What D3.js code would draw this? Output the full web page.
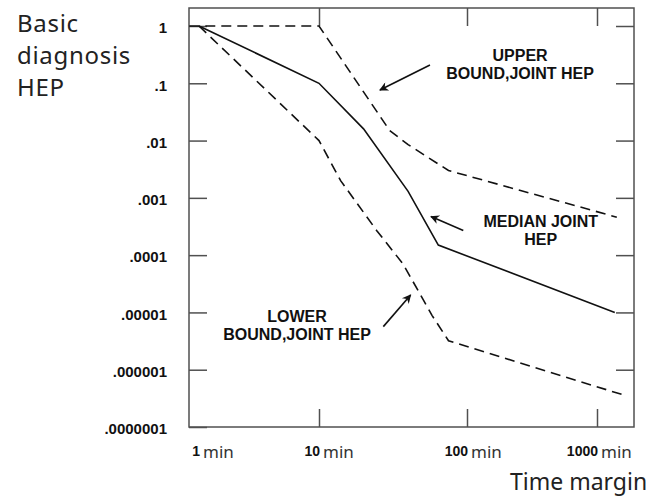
<!DOCTYPE html>
<html>
<head>
<meta charset="utf-8">
<script src="https://cdn.jsdelivr.net/npm/d3@7"></script>
<style>
  body { margin: 0; background: #fff; }
  svg { display: block; }
</style>
</head>
<body>
<svg></svg>
<script>
// tick values and labels
const xTickValues = [10, 100, 1000]
const xLabelValues = [1, 10, 100, 1000]
const yTickValues = [1, 1e-1, 1e-2, 1e-3, 1e-4, 1e-5, 1e-6, 1e-7]
const yTickLabels = ['1', '.1', '.01', '.001', '.0001', '.00001', '.000001', '.0000001']

// curves (time in min, HEP)
const medianX = [1, 10, 20, 40, 64, 1370]
const medianY = [1, 0.1, 0.016, 0.0013, 0.00015, 0.00001]

const upperX = [0.83, 10, 30, 40, 75, 1420]
const upperY = [1, 1, 0.015, 0.0085, 0.003, 0.00046]

const lowerX = [1, 10, 14, 24.5, 37, 58, 75, 1680]
const lowerY = [1, 0.01, 0.002, 0.00027, 0.00007, 0.0000089, 0.0000032, 0.00000035]

// annotation labels and arrows (data coords)
const labelNames = [['UPPER', 'BOUND,JOINT HEP'], ['MEDIAN JOINT', 'HEP'], ['LOWER', 'BOUND,JOINT HEP']]
const labelX = [256, 369, 6.56]
const labelY = [0.248, 3.14e-4, 6.9e-6]
const arrowFrom = [[56.2, 0.209], [94.4, 2.7e-4], [27.2, 5.65e-6]]
const arrowTo = [[25.8, 0.0764], [57.1, 4.73e-4], [41.6, 2.02e-5]]

const svgWidth = 652
const svgHeight = 497
const margin = { left: 189, top: 8 }
const width = 445
const height = 419
const tickLen = 18

const svg = d3.select('svg')
    .attr('width', svgWidth)
    .attr('height', svgHeight)

// the decades on the original are not evenly spaced, so the log scale is piecewise
const x = d3.scaleLog()
    .domain([1, 10, 100, 1000])
    .range([10, 130, 278, 408])

const y = d3.scaleLog()
    .domain([1, 1e-7])
    .range([18, height])

const g = svg.append('g')
    .attr('transform', `translate(${margin.left},${margin.top})`)

const axisColor = '#505050'

// axes with ticks pointing inside
const axLeft = g.append('g')
    .call(d3.axisLeft(y).tickValues(yTickValues).tickSize(-tickLen).tickSizeOuter(0)
        .tickPadding(22).tickFormat((d, i) => yTickLabels[i]))
const axRight = g.append('g')
    .attr('transform', `translate(${width},0)`)
    .call(d3.axisRight(y).tickValues(yTickValues.slice(0, 7)).tickSize(-tickLen).tickSizeOuter(0).tickFormat(''))
const axTop = g.append('g')
    .call(d3.axisTop(x).tickValues(xTickValues).tickSize(-tickLen).tickSizeOuter(0).tickFormat(''))
const axBottom = g.append('g')
    .attr('transform', `translate(0,${height})`)
    .call(d3.axisBottom(x).tickValues(xTickValues).tickSize(-tickLen).tickSizeOuter(0).tickFormat(''))

for (const a of [axLeft, axRight, axTop, axBottom]) {
    a.select('.domain').remove()
    a.selectAll('line').attr('stroke', axisColor).attr('stroke-width', 1.5)
}

axLeft.selectAll('text')
    .attr('font-family', '"Liberation Sans", Arial, sans-serif')
    .attr('font-weight', 'bold')
    .attr('font-size', '15px')
    .attr('fill', '#111')
    .attr('dy', '0.45em')

// frame
g.append('rect')
    .attr('width', width)
    .attr('height', height)
    .attr('fill', 'none')
    .attr('stroke', axisColor)
    .attr('stroke-width', 1.5)

// x labels: bold number + "min"
const xLab = g.append('g').attr('transform', `translate(0,${height + 29})`)
xLab.selectAll('text.num')
    .data(xLabelValues)
    .join('text')
    .attr('class', 'num')
    .attr('x', d => x(d) + 1)
    .attr('text-anchor', 'end')
    .attr('font-family', '"Liberation Sans", Arial, sans-serif')
    .attr('font-weight', 'bold')
    .attr('font-size', '14px')
    .attr('fill', '#111')
    .text(d => d)
xLab.selectAll('text.unit')
    .data(xLabelValues)
    .join('text')
    .attr('class', 'unit')
    .attr('x', d => x(d) + 4)
    .attr('y', 2)
    .attr('font-family', '"Noto Sans", sans-serif')
    .attr('font-size', '17px')
    .attr('fill', '#333')
    .text('min')

// curves
const line = d3.line()
    .x(d => x(d[0]))
    .y(d => y(d[1]))

const curves = [
    { xs: upperX, ys: upperY, dash: '10,6' },
    { xs: medianX, ys: medianY, dash: null },
    { xs: lowerX, ys: lowerY, dash: '10,6' }
]

curves.forEach(c => {
    g.append('path')
        .datum(c.xs.map((v, i) => [v, c.ys[i]]))
        .attr('d', line)
        .attr('fill', 'none')
        .attr('stroke', '#111')
        .attr('stroke-width', 1.6)
        .attr('stroke-dasharray', c.dash)
})

// arrows
svg.append('defs').append('marker')
    .attr('id', 'arrow')
    .attr('viewBox', '0 0 10 10')
    .attr('refX', 9)
    .attr('refY', 5)
    .attr('markerWidth', 12)
    .attr('markerHeight', 9)
    .attr('markerUnits', 'userSpaceOnUse')
    .attr('orient', 'auto')
    .append('path')
    .attr('d', 'M0,0L10,5L0,10L3,5z')
    .attr('fill', '#111')

arrowFrom.forEach((p, i) => {
    g.append('line')
        .attr('x1', x(p[0]))
        .attr('y1', y(p[1]))
        .attr('x2', x(arrowTo[i][0]))
        .attr('y2', y(arrowTo[i][1]))
        .attr('stroke', '#111')
        .attr('stroke-width', 1.6)
        .attr('marker-end', 'url(#arrow)')
})

// annotation text
labelNames.forEach((lines, i) => {
    const t = g.append('text')
        .attr('x', x(labelX[i]))
        .attr('y', y(labelY[i]))
        .attr('text-anchor', 'middle')
        .attr('font-family', '"Liberation Sans", Arial, sans-serif')
        .attr('font-weight', 'bold')
        .attr('font-size', '16px')
        .attr('fill', '#111')
    lines.forEach((s, k) => {
        t.append('tspan')
            .attr('x', x(labelX[i]))
            .attr('dy', k === 0 ? 0 : 18.5)
            .text(s)
    })
})

// axis titles
const yTitle = svg.append('text')
    .attr('font-family', '"Noto Sans", sans-serif')
    .attr('font-size', '24px')
    .attr('letter-spacing', '0.7px')
    .attr('fill', '#222')
;['Basic', 'diagnosis', 'HEP'].forEach((s, k) => {
    yTitle.append('tspan').attr('x', 17).attr('y', 32 + k * 32).text(s)
})

svg.append('text')
    .attr('x', 510)
    .attr('y', 490)
    .attr('font-family', '"Noto Sans", sans-serif')
    .attr('font-size', '23px')
    .attr('fill', '#222')
    .text('Time margin')
</script>
</body>
</html>
